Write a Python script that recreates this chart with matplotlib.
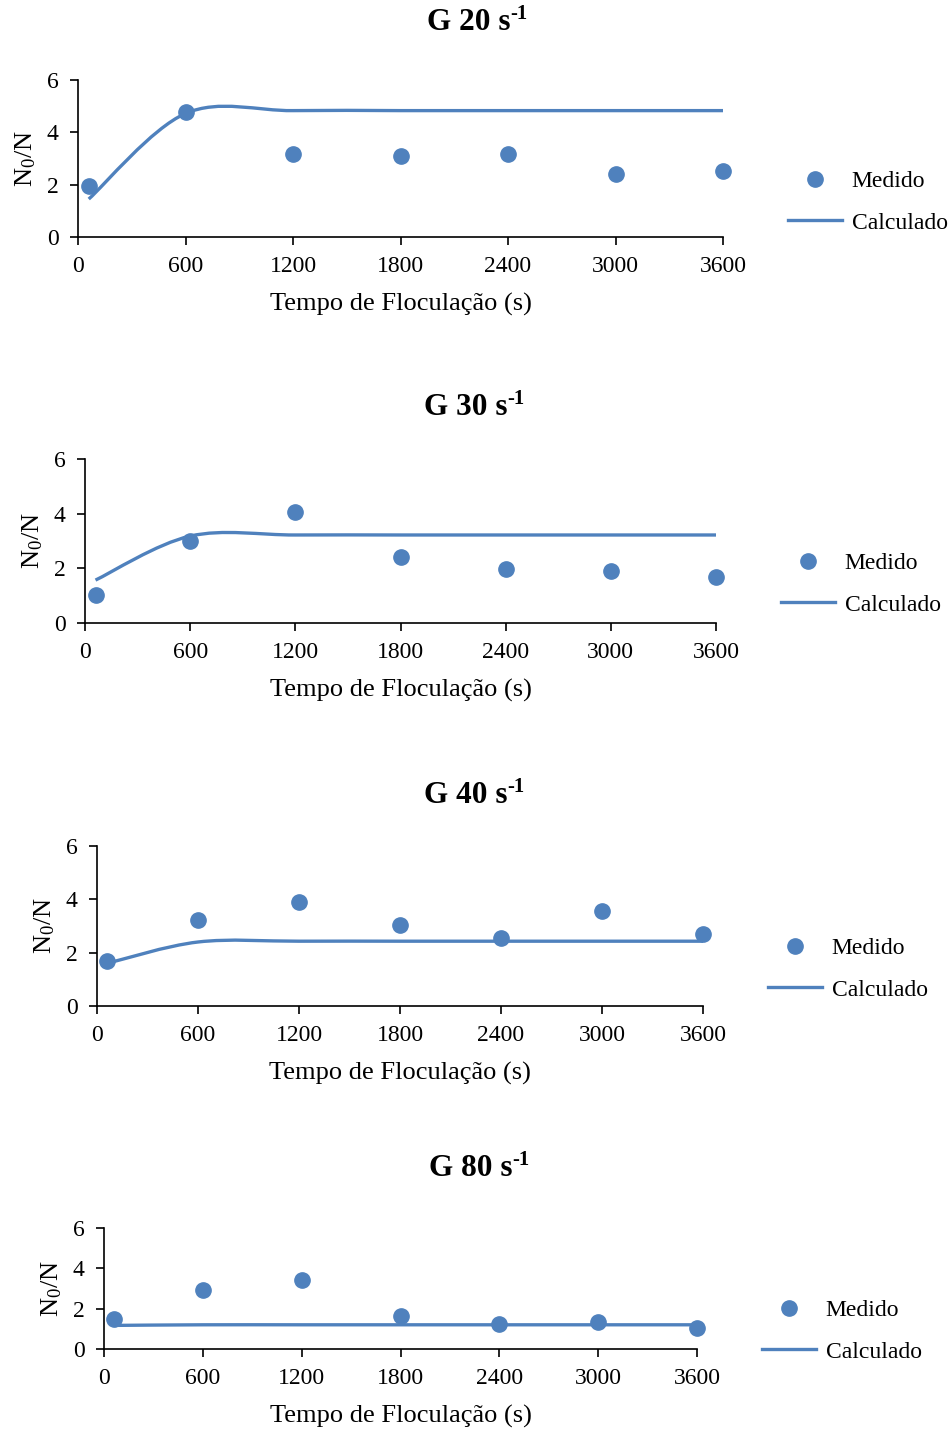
import matplotlib
matplotlib.use("Agg")
import matplotlib.pyplot as plt
from matplotlib.path import Path
from matplotlib.patches import PathPatch
from matplotlib.lines import Line2D
import numpy as np

plt.rcParams['font.family'] = ['Liberation Serif', 'DejaVu Serif']
plt.rcParams['mathtext.fontset'] = 'custom'
plt.rcParams['mathtext.rm'] = 'Liberation Serif'
plt.rcParams['mathtext.it'] = 'Liberation Serif:italic'
plt.rcParams['mathtext.bf'] = 'Liberation Serif:bold'

# ---- data ----
tempo = [60, 600, 1200, 1800, 2400, 3000, 3600]
x_ticks = [0, 600, 1200, 1800, 2400, 3000, 3600]
y_ticks = [0, 2, 4, 6]
titles = ["20", "30", "40", "80"]

medido_g20 = [1.95, 4.78, 3.17, 3.10, 3.17, 2.41, 2.52]
calc_g20 = [1.45, 4.72, 4.83, 4.83, 4.83, 4.83, 4.83]

medido_g30 = [1.02, 3.00, 4.06, 2.41, 1.98, 1.90, 1.68]
calc_g30 = [1.57, 3.18, 3.22, 3.22, 3.22, 3.22, 3.22]

medido_g40 = [1.69, 3.22, 3.90, 3.04, 2.55, 3.56, 2.70]
calc_g40 = [1.60, 2.40, 2.43, 2.43, 2.43, 2.43, 2.43]

medido_g80 = [1.49, 2.92, 3.42, 1.64, 1.24, 1.34, 1.04]
calc_g80 = [1.17, 1.20, 1.20, 1.20, 1.20, 1.20, 1.20]

medidos = [medido_g20, medido_g30, medido_g40, medido_g80]
calcs = [calc_g20, calc_g30, calc_g40, calc_g80]

COLOR = '#4F81BD'
W, H = 952, 1430

# axes pixel boxes: left, right(x=3600), top(y=6), bottom(y=0)
boxes = [(78, 723, 80, 237), (85, 716, 459, 623), (97, 703, 846, 1006), (104, 697, 1228, 1349)]
title_y = [30, 415, 803, 1176]   # baseline (px from top)
title_cx = [477, 474, 474, 479]
legend_pos = [(788, 202), (781, 584), (768, 969), (762, 1331)]


def smooth_path(xs, ys):
    """Excel-style smoothed line as cubic Bezier path through the data points."""
    P = np.column_stack([xs, ys]).astype(float)
    n = len(P)
    verts = [P[0]]
    codes = [Path.MOVETO]
    for i in range(n - 1):
        prev = P[i - 1] if i > 0 else P[i]
        nxt = P[i + 2] if i + 2 < n else P[i + 1]
        c1 = P[i] + (P[i + 1] - prev) / 6.0
        c2 = P[i + 1] - (nxt - P[i]) / 6.0
        verts += [c1, c2, P[i + 1]]
        codes += [Path.CURVE4] * 3
    return Path(verts, codes)


fig = plt.figure(figsize=(W / 100, H / 100), dpi=100)
renderer = fig.canvas.get_renderer()

for k in range(4):
    l, r, t, b = boxes[k]
    ax = fig.add_axes([l / W, 1 - b / H, (r - l) / W, (b - t) / H])
    ax.set_xlim(0, 3600)
    ax.set_ylim(0, 6)
    patch = PathPatch(smooth_path(tempo, calcs[k]), facecolor='none', edgecolor=COLOR,
                      lw=2.4, capstyle='butt', zorder=2, clip_on=False)
    ax.add_patch(patch)
    ax.plot(tempo, medidos[k], 'o', color=COLOR, markersize=11, zorder=3, clip_on=False)
    ax.set_xticks(x_ticks)
    ax.set_yticks(y_ticks)
    ax.tick_params(axis='both', direction='out', length=6, width=1.2, labelsize=17)
    ax.tick_params(axis='x', pad=8)
    ax.tick_params(axis='y', pad=8)
    for s in ['top', 'right']:
        ax.spines[s].set_visible(False)
    for s in ['left', 'bottom']:
        ax.spines[s].set_linewidth(1.2)
    ax.set_xlabel('Tempo de Floculação (s)', fontsize=19, labelpad=11)
    ax.set_ylabel(r'N$_0$/N', fontsize=19, labelpad=6)

    # title with superscript "-1"
    main = fig.text(0, 1 - title_y[k] / H, 'G ' + titles[k] + ' s', ha='left', va='baseline',
                    fontsize=22.5, fontweight='bold')
    sup = fig.text(0, 1 - (title_y[k] - 11) / H, '-1', ha='left', va='baseline',
                   fontsize=15, fontweight='bold')
    wm = main.get_window_extent(renderer).width
    ws = sup.get_window_extent(renderer).width
    x0 = title_cx[k] - (wm + ws) / 2
    main.set_x(x0 / W)
    sup.set_x((x0 + wm) / W)

    handles = [Line2D([], [], marker='o', ls='none', color=COLOR, markersize=11),
               Line2D([], [], color=COLOR, lw=2.4)]
    lx, ly = legend_pos[k]
    fig.legend(handles, ['Medido', 'Calculado'], loc='center left',
               bbox_to_anchor=(lx / W, 1 - ly / H), frameon=False, fontsize=17,
               handlelength=2.3, handletextpad=0.4, labelspacing=0.85,
               borderpad=0, borderaxespad=0)

fig.savefig('out.png', dpi=100)
